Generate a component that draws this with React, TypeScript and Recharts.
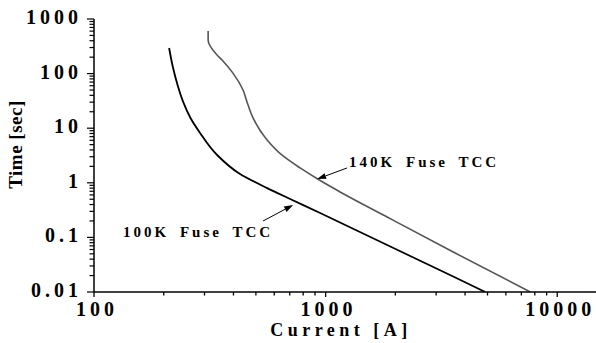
import { LineChart, Line, XAxis, YAxis, ReferenceLine, Label } from "recharts";

// 100K fuse TCC (current in A, time in s)
const current100K = [211, 219, 229.5, 243.6, 261, 287, 340, 427, 559, 703, 947, 1844, 3555, 4890];
const time100K = [294, 132, 61.8, 29, 15.4, 8.2, 3.23, 1.45, 0.8, 0.505, 0.28, 0.0726, 0.0192, 0.01];

// 140K fuse TCC
const current140K = [311, 311, 340, 357, 398, 440, 458, 486, 559, 655, 776, 947, 1155, 1844, 3555, 7650];
const time140K = [600, 410, 219, 177, 102, 50, 30, 15.4, 6.1, 3.1, 1.87, 1.1, 0.68, 0.236, 0.054, 0.01];

const currentTicks = [
  100, 200, 300, 400, 500, 600, 700, 800, 900,
  1000, 2000, 3000, 4000, 5000, 6000, 7000, 8000, 9000,
  10000,
];
const timeTicks = [
  0.01, 0.02, 0.03, 0.04, 0.05, 0.06, 0.07, 0.08, 0.09,
  0.1, 0.2, 0.3, 0.4, 0.5, 0.6, 0.7, 0.8, 0.9,
  1, 2, 3, 4, 5, 6, 7, 8, 9,
  10, 20, 30, 40, 50, 60, 70, 80, 90,
  100, 200, 300, 400, 500, 600, 700, 800, 900,
  1000,
];
const majorCurrent = [100, 1000, 10000];
const majorTime = [0.01, 0.1, 1, 10, 100, 1000];

// arrow tail -> head, in data units
const note140K = { text: "140K Fuse TCC", from: { x: 1238, y: 1.87 }, to: { x: 919, y: 1.17 } };
const note100K = { text: "100K Fuse TCC", from: { x: 537, y: 0.2 }, to: { x: 724, y: 0.392 } };

const fuse100K = current100K.map((c, i) => ({ current: c, time: time100K[i] }));
const fuse140K = current140K.map((c, i) => ({ current: c, time: time140K[i] }));

const FONT = "'Liberation Serif', 'Times New Roman', serif";

function CurrentTick({ x, y, payload }: any) {
  const v = payload.value;
  if (!majorCurrent.includes(v)) return <g />;
  return (
    <text x={x + 3} y={y + 24} textAnchor="middle" fontFamily={FONT} fontWeight="bold" fontSize={20} letterSpacing={4} fill="#000">
      {v}
    </text>
  );
}

function TimeTick({ x, y, payload }: any) {
  const v = payload.value;
  if (!majorTime.includes(v)) return <g />;
  return (
    <text x={x - 12} y={y + 5} textAnchor="end" fontFamily={FONT} fontWeight="bold" fontSize={20} letterSpacing={4} fill="#000">
      {v}
    </text>
  );
}

// short outside tick at the bottom end of a vertical reference line
function BottomTick({ x1, y1, y2, major }: any) {
  const yb = Math.max(y1, y2);
  return <line x1={x1} x2={x1} y1={yb} y2={yb + (major ? 5 : 3.5)} stroke="#000" strokeWidth={1.3} />;
}

// short outside tick at the left end of a horizontal reference line
function LeftTick({ x1, x2, y1, major }: any) {
  const xl = Math.min(x1, x2);
  return <line x1={xl} x2={xl - (major ? 7 : 4.5)} y1={y1} y2={y1} stroke="#000" strokeWidth={1.2} />;
}

function ArrowNote({ x1, y1, x2, y2, text, side }: any) {
  const len = Math.hypot(x2 - x1, y2 - y1);
  const ux = (x2 - x1) / len;
  const uy = (y2 - y1) / len;
  const bx = x2 - ux * 9;
  const by = y2 - uy * 9;
  const head = `${x2},${y2} ${bx - uy * 3},${by + ux * 3} ${bx + uy * 3},${by - ux * 3}`;
  return (
    <g>
      <line x1={x1} y1={y1} x2={bx} y2={by} stroke="#000" strokeWidth={1} />
      <polygon points={head} fill="#000" />
      <text
        x={side === "start" ? x1 + 2 : x1 + 10}
        y={side === "start" ? y1 - 1 : y1 + 16}
        textAnchor={side}
        fontFamily={FONT}
        fontWeight="bold"
        fontSize={15}
        letterSpacing={3}
        wordSpacing={4}
        fill="#000"
      >
        {text}
      </text>
    </g>
  );
}

export default function App() {
  return (
    <div style={{ position: "absolute", left: 0, top: 0, background: "#fff" }}>
      <LineChart width={596} height={343} margin={{ top: 19, right: 0, bottom: 0, left: 0 }}>
        <XAxis
          dataKey="current"
          type="number"
          scale="log"
          domain={[100, 14700]}
          allowDataOverflow
          ticks={currentTicks}
          interval={0}
          tick={<CurrentTick />}
          tickSize={0}
          tickMargin={0}
          tickLine={false}
          height={51}
          axisLine={{ stroke: "#000", strokeWidth: 1.5 }}
        >
          <Label
            content={({ viewBox }: any) => (
              <text
                x={viewBox.x + viewBox.width / 2 - 4}
                y={viewBox.y + 44}
                textAnchor="middle"
                fontFamily={FONT}
                fontWeight="bold"
                fontSize={18}
                letterSpacing={4.5}
                fill="#000"
              >
                Current [A]
              </text>
            )}
          />
        </XAxis>
        <YAxis
          type="number"
          scale="log"
          domain={[0.01, 1000]}
          allowDataOverflow
          ticks={timeTicks}
          interval={0}
          tick={<TimeTick />}
          tickSize={0}
          tickMargin={0}
          tickLine={false}
          width={94}
          axisLine={{ stroke: "#000", strokeWidth: 1.5 }}
        >
          <Label
            content={({ viewBox }: any) => (
              <text
                transform={`translate(${viewBox.x + 22},${viewBox.y + viewBox.height / 2 - 11}) rotate(-90)`}
                textAnchor="middle"
                fontFamily={FONT}
                fontWeight="bold"
                fontSize={19}
                letterSpacing={0.5}
                fill="#000"
              >
                Time [sec]
              </text>
            )}
          />
        </YAxis>
        {currentTicks.map((v) => (
          <ReferenceLine
            key={`cx${v}`}
            x={v}
            ifOverflow="visible"
            shape={(p: any) => <BottomTick {...p} major={majorCurrent.includes(v)} />}
          />
        ))}
        {timeTicks.map((v) => (
          <ReferenceLine
            key={`ty${v}`}
            y={v}
            ifOverflow="visible"
            shape={(p: any) => <LeftTick {...p} major={majorTime.includes(v)} />}
          />
        ))}
        <Line
          data={fuse100K}
          dataKey="time"
          type="monotoneY"
          stroke="#000"
          strokeWidth={1.8}
          dot={false}
          isAnimationActive={false}
        />
        <Line
          data={fuse140K}
          dataKey="time"
          type="monotoneY"
          stroke="#555"
          strokeWidth={1.6}
          dot={false}
          isAnimationActive={false}
        />
        <ReferenceLine
          segment={[note140K.from, note140K.to]}
          shape={(p: any) => <ArrowNote {...p} text={note140K.text} side="start" />}
        />
        <ReferenceLine
          segment={[note100K.from, note100K.to]}
          shape={(p: any) => <ArrowNote {...p} text={note100K.text} side="end" />}
        />
      </LineChart>
    </div>
  );
}
